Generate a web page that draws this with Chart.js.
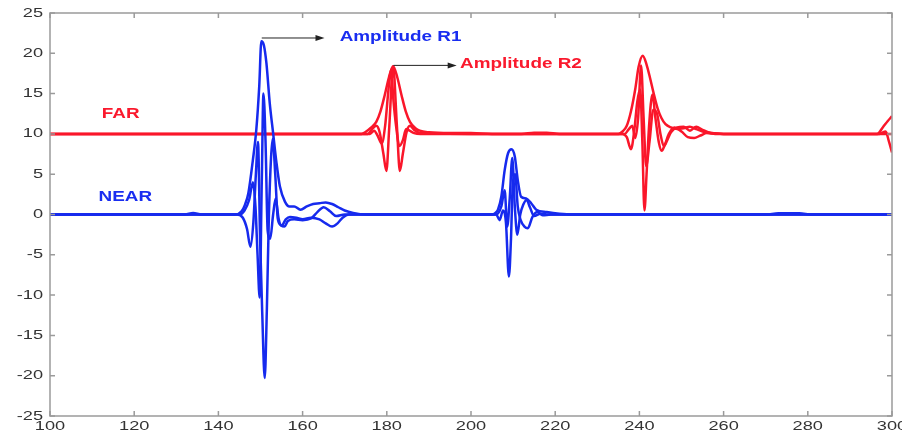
<!DOCTYPE html>
<html>
<head>
<meta charset="utf-8">
<script src="https://cdn.jsdelivr.net/npm/chart.js@4.4.1/dist/chart.umd.min.js"></script>
<style>
  html, body { margin: 0; padding: 0; background: #fff; }
  #wrap { width: 902px; height: 435px; }
</style>
</head>
<body>
<div id="wrap"><canvas id="myChart"></canvas></div>
<script>
// axis ticks
const xTickLabels = ['100', '120', '140', '160', '180', '200', '220', '240', '260', '280', '300'];
const yTickLabels = ['-25', '-20', '-15', '-10', '-5', '0', '5', '10', '15', '20', '25'];

// NEAR traces (blue) : [x, amplitude]
const nearEnvelope = [[100,0],[132,0],[134,0.2],[136,0],[144,0],[145.5,0.4],[146.3,1.2],[147.1,2.6],[148.2,6.8],[149,10.5],[149.7,15.9],[150.2,21.5],[150.8,21],[151.4,18.8],[152.2,13.8],[153,10.1],[153.8,6.4],[154.6,3.5],[155.8,1.6],[156.9,1],[158,1],[159.5,0.6],[161,1],[162.5,1.3],[164,1.4],[165.5,1.5],[167,1.3],[168.5,0.9],[170,0.5],[172,0.2],[175,0],[205,0],[205.8,0.2],[206.4,0.6],[207.2,2.2],[208,5.5],[208.8,7.6],[209.6,8.1],[210.4,7.2],[211.1,4.3],[211.9,2.2],[213.1,2],[214.3,1.4],[215.5,0.6],[218,0.3],[221,0.1],[224,0],[270,0],[273,0.15],[278,0.15],[281,0],[300,0]];
const nearReal = [[100,0],[144.5,0],[145.8,-0.4],[146.8,-1.8],[147.6,-4],[148.3,-1],[148.9,5],[149.4,9],[149.9,-3],[150.4,-12],[151,-20.3],[151.5,-12],[152,0],[152.5,7],[152.9,9.4],[153.5,5],[154.1,-0.5],[154.8,-1.3],[155.7,-1.5],[156.5,-0.8],[158,-0.6],[160,-0.7],[162,-0.5],[163.5,0.3],[165,0.9],[166.5,0.4],[168,-0.2],[170,0],[206,0],[206.8,-0.7],[207.6,0.5],[208.3,-1],[209,-7.7],[209.5,-3],[209.9,3.5],[210.5,5],[211.1,1],[211.8,-0.7],[212.7,-1.5],[213.5,-1.7],[214.6,-0.3],[215.8,0.3],[217,-0.1],[219,0],[300,0]];
const nearImag = [[100,0],[145,0],[146.2,0.5],[147.3,1.8],[148.2,4],[148.8,1],[149.3,-5],[149.8,-10.3],[150.3,4],[150.7,15],[151.2,9],[151.7,-2],[152.3,-3],[153,0],[153.6,2],[154.3,-0.5],[155,-1.4],[156,-0.6],[157,-0.3],[158.5,-0.4],[160,-0.6],[162,-0.4],[164,-0.6],[165.5,-1.1],[167,-1.5],[168.3,-1.1],[169.5,-0.4],[171,0],[206,0],[207.2,1],[208,3],[208.6,-1.5],[209.2,2],[209.8,7],[210.4,1],[211,-2.5],[211.7,0],[212.4,1.2],[213.2,1.8],[214,0.9],[215,-0.2],[216.5,0.1],[218,0],[300,0]];

// FAR traces (red), offset to 10
const farEnvelope = [[100,10],[174,10],[175.1,10.3],[176.3,10.8],[177.5,11.5],[178.5,12.8],[179.5,14.8],[180.5,17],[181.5,18.4],[182.5,17],[183.5,14.8],[184.5,12.8],[185.5,11.5],[186.8,10.7],[187.8,10.4],[190,10.2],[195,10.1],[200,10.1],[205,10],[212,10],[215,10.15],[218,10.15],[221,10],[235,10],[236,10.3],[237,11],[238,12.8],[239,15.5],[239.8,18.3],[240.8,19.7],[241.7,18.6],[242.5,17],[243.4,15],[244.3,13.2],[245.2,12],[246.2,11.2],[247.5,10.8],[249,10.6],[250.5,10.7],[252,10.9],[253.5,10.6],[255,10.3],[257,10.1],[260,10],[296.5,10],[297.8,10.8],[299,11.6],[300,12.2]];
const farReal = [[100,10],[175.5,10],[176.5,10.6],[177.5,11],[178.3,10.2],[179.2,7.5],[179.9,5.4],[180.6,11],[181.5,18.4],[182.4,11],[183.1,5.4],[183.8,7.5],[184.7,10.2],[185.5,11],[186.5,10.5],[188,10.1],[200,10],[236,10],[237,9.6],[238,8.1],[238.8,10.5],[239.5,14],[240.2,15.5],[240.7,9],[241.2,0.5],[241.7,5],[242.3,11],[243.1,14.9],[243.8,12],[244.6,9],[245.3,7.9],[246,8.6],[247,10],[248.3,10.8],[250,10.3],[251.5,9.6],[253,9.5],[254.5,9.8],[256,10.1],[258,10],[297,10],[298.5,10.3],[299.3,9],[300,7.7]];
const farImag = [[100,10],[176,10],[177,10.4],[177.8,9.8],[178.8,8.8],[179.6,11],[180.4,15.5],[181,18],[181.6,14],[182.2,11],[183,8.5],[183.8,9.2],[184.6,10.6],[185.4,10.4],[186.5,10.1],[188,10],[236.5,10],[237.5,10.6],[238.3,11],[239,9.5],[239.7,12],[240.4,18.5],[241,12],[241.6,6],[242.4,9],[243.3,13],[244.2,12.5],[245,10],[245.8,8.5],[246.6,9.2],[247.5,10.2],[249,10.8],[250.5,10.9],[252,10.4],[253.5,10.9],[255,10.5],[257,10.1],[260,10],[300,10]];

// labels written on the plot (data coordinates)
const notes = [
  { text: 'FAR', x: 116.8, y: 12.4, color: 'rgb(250,25,45)', align: 'center' },
  { text: 'NEAR', x: 117.9, y: 2.2, color: 'rgb(25,45,240)', align: 'center' },
  { text: 'Amplitude R1', x: 168.8, y: 22.05, color: 'rgb(25,45,240)', align: 'left' },
  { text: 'Amplitude R2', x: 197.4, y: 18.7, color: 'rgb(250,25,45)', align: 'left' }
];
const arrows = [
  { from: [150.3, 21.9], to: [165.2, 21.9] },
  { from: [181.6, 18.5], to: [196.6, 18.5] }
];

const BLUE = 'rgb(22,42,238)';
const RED = 'rgb(250,22,42)';

const toPoints = arr => arr.map(p => ({ x: p[0], y: p[1] }));

function trace(arr, color) {
  return {
    data: toPoints(arr),
    borderColor: color,
    borderWidth: 2.5,
    pointRadius: 0,
    fill: false,
    cubicInterpolationMode: 'monotone'
  };
}

// text in the scan is stretched sideways
function wideText(ctx, text, x, y, align, k) {
  const w = ctx.measureText(text).width * k;
  let x0 = x;
  if (align === 'right') x0 = x - w;
  if (align === 'center') x0 = x - w / 2;
  ctx.save();
  ctx.translate(x0, y);
  ctx.scale(k, 1);
  ctx.textAlign = 'left';
  ctx.fillText(text, 0, 0);
  ctx.restore();
}

const framePlugin = {
  id: 'frame',
  afterDatasetsDraw(chart) {
    const { ctx, scales: { x, y } } = chart;
    ctx.save();
    // arrows
    ctx.strokeStyle = '#222';
    ctx.fillStyle = '#222';
    ctx.lineWidth = 1;
    arrows.forEach(a => {
      const x1 = x.getPixelForValue(a.from[0]), y1 = y.getPixelForValue(a.from[1]);
      const x2 = x.getPixelForValue(a.to[0]), y2 = y.getPixelForValue(a.to[1]);
      ctx.beginPath();
      ctx.moveTo(x1, y1);
      ctx.lineTo(x2 - 6, y2);
      ctx.stroke();
      ctx.beginPath();
      ctx.moveTo(x2, y2);
      ctx.lineTo(x2 - 9, y2 - 3);
      ctx.lineTo(x2 - 9, y2 + 3);
      ctx.closePath();
      ctx.fill();
    });
    // notes
    ctx.font = 'bold 14px "Liberation Sans", Arial, sans-serif';
    ctx.textBaseline = 'middle';
    notes.forEach(n => {
      ctx.fillStyle = n.color;
      wideText(ctx, n.text, x.getPixelForValue(n.x), y.getPixelForValue(n.y), n.align, 1.35);
    });
    ctx.restore();
  },
  afterDraw(chart) {
    const { ctx, chartArea: a, scales: { x, y } } = chart;
    ctx.save();
    ctx.strokeStyle = '#9a9a9a';
    ctx.lineWidth = 1.5;
    ctx.strokeRect(a.left, a.top, a.right - a.left, a.bottom - a.top);
    ctx.beginPath();
    x.ticks.forEach(t => {
      const px = x.getPixelForValue(t.value);
      ctx.moveTo(px, a.bottom); ctx.lineTo(px, a.bottom - 5);
      ctx.moveTo(px, a.top); ctx.lineTo(px, a.top + 5);
    });
    y.ticks.forEach(t => {
      const py = y.getPixelForValue(t.value);
      ctx.moveTo(a.left, py); ctx.lineTo(a.left + 5, py);
      ctx.moveTo(a.right, py); ctx.lineTo(a.right - 5, py);
    });
    ctx.stroke();

    ctx.fillStyle = '#333';
    ctx.font = '13px "Liberation Sans", Arial, sans-serif';
    ctx.textBaseline = 'middle';
    x.ticks.forEach(t => {
      wideText(ctx, t.label, x.getPixelForValue(t.value), a.bottom + 10, 'center', 1.4);
    });
    y.ticks.forEach(t => {
      wideText(ctx, t.label, a.left - 7, y.getPixelForValue(t.value), 'right', 1.4);
    });
    ctx.restore();
  }
};

const myChart = new Chart(document.getElementById('myChart'), {
  type: 'line',
  data: {
    datasets: [
      trace(nearEnvelope, BLUE),
      trace(nearReal, BLUE),
      trace(nearImag, BLUE),
      trace(farEnvelope, RED),
      trace(farReal, RED),
      trace(farImag, RED)
    ]
  },
  options: {
    responsive: true,
    maintainAspectRatio: false,
    animation: false,
    layout: { padding: { top: 13, right: 10, left: 0, bottom: 0 } },
    plugins: {
      legend: { display: false },
      tooltip: { enabled: false }
    },
    scales: {
      x: {
        type: 'linear',
        min: 100,
        max: 300,
        ticks: {
          display: false,
          stepSize: 20,
          callback: (v, i) => xTickLabels[i]
        },
        grid: { display: false },
        border: { display: false },
        afterFit: s => { s.height = 19; s.paddingLeft = 0; s.paddingRight = 0; }
      },
      y: {
        min: -25,
        max: 25,
        ticks: {
          display: false,
          stepSize: 5,
          callback: (v, i) => yTickLabels[i]
        },
        grid: { display: false },
        border: { display: false },
        afterFit: s => { s.width = 50; }
      }
    }
  },
  plugins: [framePlugin]
});
</script>
</body>
</html>
